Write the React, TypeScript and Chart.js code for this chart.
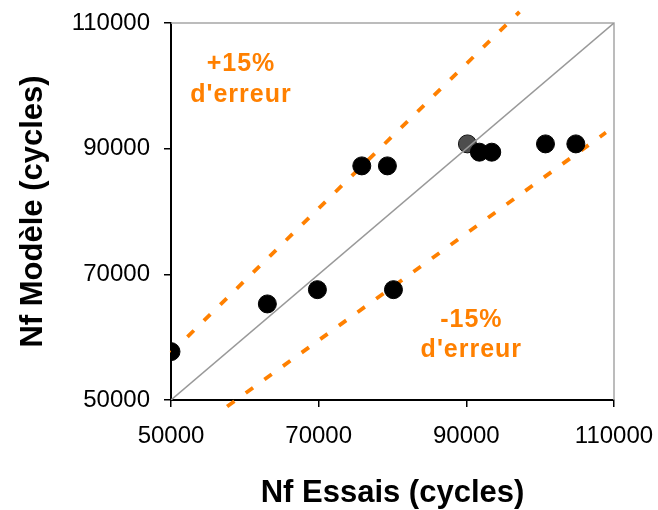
import React, { useEffect, useRef } from "react";
import { Chart, registerables } from "chart.js";

Chart.register(...registerables);

// Fatigue life: test results vs. model prediction (cycles)
const nfEssais = [50000, 63050, 69830, 75840, 79310, 80130, 91770, 93440, 100720, 104830];
const nfModele = [57700, 65290, 67560, 87260, 87260, 67560, 89440, 89440, 90760, 90760];

// Reference specimen (shown in grey)
const refEssais = [90150];
const refModele = [90760];

// Axis range and ticks
const axisMin = 50000;
const axisMax = 110000;
const axisStep = 20000;

// ±15 % error band
const errorPct = 15;
const upperBandX = [50000, 97200];
const lowerBandX = [57600, 108900];

const FONT = "'Liberation Sans', Arial, Helvetica, sans-serif";
const ORANGE = "#FF8000";

const toPoints = (xs: number[], ys: number[]) => xs.map((x, i) => ({ x, y: ys[i] }));

const framePlugin = {
  id: "frameAndLabels",
  beforeDatasetsDraw(chart: any) {
    const { ctx, chartArea } = chart;
    ctx.save();
    ctx.strokeStyle = "#a6a6a6";
    ctx.lineWidth = 1.5;
    ctx.beginPath();
    ctx.moveTo(chartArea.left, chartArea.top);
    ctx.lineTo(chartArea.right, chartArea.top);
    ctx.lineTo(chartArea.right, chartArea.bottom);
    ctx.stroke();
    ctx.restore();
  },
  afterDraw(chart: any) {
    const { ctx, chartArea, scales } = chart;
    const xs = scales.x;
    const ys = scales.y;
    ctx.save();
    // band annotations
    ctx.fillStyle = ORANGE;
    ctx.font = `bold 25px ${FONT}`;
    ctx.textAlign = "center";
    ctx.textBaseline = "alphabetic";
    (ctx as any).letterSpacing = "1px";
    const notes = [
      { t: `+${errorPct}%`, x: 59480, y: 102400 },
      { t: "d'erreur", x: 59480, y: 97480 },
      { t: `-${errorPct}%`, x: 90680, y: 61670 },
      { t: "d'erreur", x: 90680, y: 56890 },
    ];
    notes.forEach((n) => ctx.fillText(n.t, xs.getPixelForValue(n.x), ys.getPixelForValue(n.y)));
    (ctx as any).letterSpacing = "0px";

    // axis titles
    ctx.fillStyle = "#000";
    ctx.font = `bold 31px ${FONT}`;
    const cx = (chartArea.left + chartArea.right) / 2;
    ctx.fillText("Nf Essais (cycles)", cx, 502);
    const cy = (chartArea.top + chartArea.bottom) / 2;
    ctx.translate(42, cy);
    ctx.rotate(-Math.PI / 2);
    ctx.fillText("Nf Modèle (cycles)", 0, 0);
    ctx.restore();
  },
};

export default function App() {
  const canvasRef = useRef<HTMLCanvasElement | null>(null);

  useEffect(() => {
    const canvas = canvasRef.current;
    if (!canvas) return;

    const band = (k: number, xs: number[]) => xs.map((x) => ({ x, y: x * k }));

    const chart = new Chart(canvas, {
      type: "scatter",
      data: {
        datasets: [
          {
            label: "Essais",
            data: toPoints(nfEssais, nfModele),
            backgroundColor: "#000",
            borderColor: "#000",
            borderWidth: 1,
            pointRadius: 9,
            order: 0,
          },
          {
            label: "y = x",
            data: [
              { x: axisMin, y: axisMin },
              { x: axisMax, y: axisMax },
            ],
            showLine: true,
            borderColor: "#999999",
            borderWidth: 1.5,
            pointRadius: 0,
            order: 1,
          },
          {
            label: "Référence",
            data: toPoints(refEssais, refModele),
            backgroundColor: "#4d4d4d",
            borderColor: "#111",
            borderWidth: 1,
            pointRadius: 9,
            order: 2,
          },
          {
            label: `+${errorPct}%`,
            data: band(1 + errorPct / 100, upperBandX),
            showLine: true,
            borderColor: ORANGE,
            borderWidth: 3.8,
            borderDash: [9, 14],
            borderCapStyle: "butt",
            pointRadius: 0,
            clip: false,
            order: 3,
          },
          {
            label: `-${errorPct}%`,
            data: band(1 - errorPct / 100, lowerBandX),
            showLine: true,
            borderColor: ORANGE,
            borderWidth: 3.8,
            borderDash: [9, 14],
            borderCapStyle: "butt",
            pointRadius: 0,
            clip: false,
            order: 3,
          },
        ],
      },
      options: {
        responsive: false,
        animation: false,
        devicePixelRatio: 1,
        layout: { padding: { left: 0, top: 23, right: 44, bottom: 0 } },
        plugins: {
          legend: { display: false },
          tooltip: { enabled: false },
        },
        scales: {
          x: {
            type: "linear",
            min: axisMin,
            max: axisMax,
            afterFit: (s: any) => {
              s.height = 110;
              s.paddingLeft = 0;
              s.paddingRight = 0;
            },
            ticks: {
              stepSize: axisStep,
              color: "#000",
              padding: 15,
              font: { family: FONT, size: 24 },
              callback: (v: any) => String(v),
            },
            grid: {
              drawOnChartArea: false,
              drawTicks: true,
              tickLength: 7,
              color: "#000",
              lineWidth: 1.5,
            },
            border: { display: true, color: "#000", width: 2 },
          },
          y: {
            type: "linear",
            min: axisMin,
            max: axisMax,
            afterFit: (s: any) => {
              s.width = 171;
              s.paddingTop = 0;
              s.paddingBottom = 0;
            },
            ticks: {
              stepSize: axisStep,
              color: "#000",
              padding: 14,
              font: { family: FONT, size: 24 },
              callback: (v: any) => String(v),
            },
            grid: {
              drawOnChartArea: false,
              drawTicks: true,
              tickLength: 7,
              color: "#000",
              lineWidth: 1.5,
            },
            border: { display: true, color: "#000", width: 2 },
          },
        },
      },
      plugins: [framePlugin],
    });

    return () => chart.destroy();
  }, []);

  return (
    <div style={{ position: "fixed", left: 0, top: 0, width: 658, height: 510, background: "#fff" }}>
      <canvas ref={canvasRef} width={658} height={510} style={{ display: "block" }} />
    </div>
  );
}
